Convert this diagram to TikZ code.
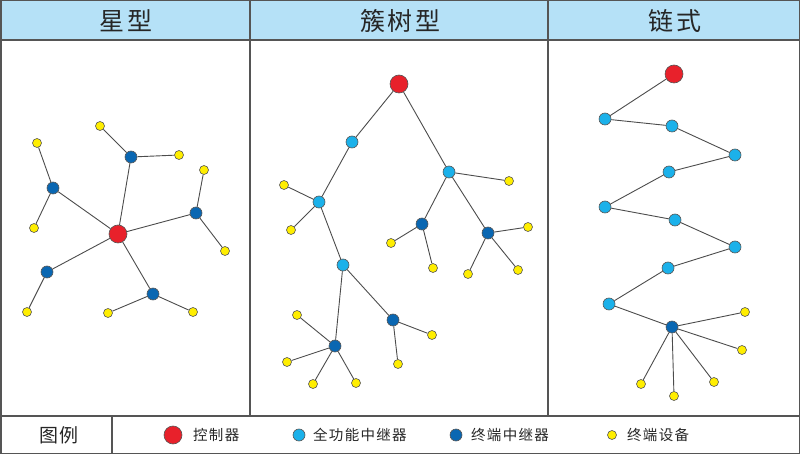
\documentclass[tikz,border=0pt]{standalone}
\usepackage{fontspec}
\newfontfamily\cjk{Noto Sans CJK SC}
\newfontfamily\cjkt[LetterSpace=10]{Noto Sans CJK SC}
\newfontfamily\cjkl[LetterSpace=9]{Noto Sans CJK SC}
\definecolor{hdr}{HTML}{B5E1F7}
\definecolor{cred}{HTML}{E8212B}
\definecolor{clb}{HTML}{1BB1EA}
\definecolor{cdb}{HTML}{0A67B2}
\definecolor{cyl}{HTML}{FFEE00}
\definecolor{frm}{HTML}{555555}
\begin{document}
\begin{tikzpicture}[x=1pt,y=-1pt,
  ctrl/.style={circle,draw=frm,line width=0.6pt,fill=cred,minimum size=18pt,inner sep=0pt},
  full/.style={circle,draw=frm,line width=0.6pt,fill=clb,minimum size=12pt,inner sep=0pt},
  term/.style={circle,draw=frm,line width=0.6pt,fill=cdb,minimum size=12pt,inner sep=0pt},
  dev/.style={circle,draw=frm,line width=0.6pt,fill=cyl,minimum size=9pt,inner sep=0pt},
  lnk/.style={draw=frm!90!black,line width=0.9pt},
  title/.style={font=\cjkt\fontsize{25}{25}\selectfont,text=black!85},
  legtxt/.style={font=\cjkl\fontsize{14.5}{14.5}\selectfont,text=black!85,anchor=west,inner sep=0pt}]
\useasboundingbox (0,0) rectangle (800,454);
\fill[hdr] (0,0) rectangle (800,40);
\draw[frm,line width=1.5pt] (0.75,0.75) rectangle (799.25,453.25);
\draw[frm,line width=1.2pt] (0,40) -- (800,40);
\draw[frm,line width=1.2pt] (0,416) -- (800,416);
\draw[frm,line width=1.2pt] (250,0) -- (250,416);
\draw[frm,line width=1.2pt] (548,0) -- (548,416);
\draw[frm,line width=1.2pt] (112,416) -- (112,454);
\node[title] (t1) at (126,21) {星型};
\node[title] (t2) at (400,21) {簇树型};
\node[title] (t3) at (675,21) {链式};
% star
\node[ctrl] (sc) at (118,234) {};
\node[term] (s1) at (131,157) {};
\node[term] (s2) at (53,188) {};
\node[term] (s3) at (196,213) {};
\node[term] (s4) at (47,272) {};
\node[term] (s5) at (153,294) {};
\node[dev] (y1) at (100,126) {};
\node[dev] (y2) at (179,155) {};
\node[dev] (y3) at (37,143) {};
\node[dev] (y4) at (34,228) {};
\node[dev] (y5) at (204,170) {};
\node[dev] (y6) at (225,251) {};
\node[dev] (y7) at (27,312) {};
\node[dev] (y8) at (108,313) {};
\node[dev] (y9) at (193,312) {};
\foreach \a/\b in {sc/s1,sc/s2,sc/s3,sc/s4,sc/s5,s1/y1,s1/y2,s2/y3,s2/y4,s3/y5,s3/y6,s4/y7,s5/y8,s5/y9}
  \draw[lnk] (\a) -- (\b);
% cluster tree
\node[ctrl] (cr) at (399,84) {};
\node[full] (c1) at (352,142) {};
\node[full] (c2) at (319,202) {};
\node[full] (c3) at (343,265) {};
\node[full] (c4) at (449,172) {};
\node[term] (d1) at (422,224) {};
\node[term] (d2) at (488,233) {};
\node[term] (d3) at (393,320) {};
\node[term] (d4) at (335,346) {};
\node[dev] (e1) at (284,185) {};
\node[dev] (e2) at (291,230) {};
\node[dev] (e3) at (509,181) {};
\node[dev] (e4) at (391,243) {};
\node[dev] (e5) at (433,268) {};
\node[dev] (e6) at (528,227) {};
\node[dev] (e7) at (468,274) {};
\node[dev] (e8) at (518,270) {};
\node[dev] (e9) at (297,315) {};
\node[dev] (e10) at (432,335) {};
\node[dev] (e11) at (287,362) {};
\node[dev] (e12) at (313,384) {};
\node[dev] (e13) at (356,383) {};
\node[dev] (e14) at (398,364) {};
\foreach \a/\b in {cr/c1,cr/c4,c1/c2,c2/e1,c2/e2,c2/c3,c3/d3,c3/d4,d3/e10,d3/e14,d4/e9,d4/e11,d4/e12,d4/e13,c4/e3,c4/d1,c4/d2,d1/e4,d1/e5,d2/e6,d2/e7,d2/e8}
  \draw[lnk] (\a) -- (\b);
% chain
\node[ctrl] (kr) at (674,74) {};
\node[full] (k1) at (605,119) {};
\node[full] (k2) at (672,126) {};
\node[full] (k3) at (735,155) {};
\node[full] (k4) at (669,172) {};
\node[full] (k5) at (605,207) {};
\node[full] (k6) at (675,220) {};
\node[full] (k7) at (735,247) {};
\node[full] (k8) at (668,268) {};
\node[full] (k9) at (609,304) {};
\node[term] (kt) at (672,327) {};
\node[dev] (f1) at (745,312) {};
\node[dev] (f2) at (742,350) {};
\node[dev] (f3) at (714,382) {};
\node[dev] (f4) at (674,396) {};
\node[dev] (f5) at (641,384) {};
\foreach \a/\b in {kr/k1,k1/k2,k2/k3,k3/k4,k4/k5,k5/k6,k6/k7,k7/k8,k8/k9,k9/kt,kt/f1,kt/f2,kt/f3,kt/f4,kt/f5}
  \draw[lnk] (\a) -- (\b);
% legend
\node[font=\cjkt\fontsize{19}{19}\selectfont,text=black!85] (lg) at (59,435) {图例};
\node[ctrl] (l1) at (173,435) {};
\node[legtxt] (lt1) at (193,435) {控制器};
\node[full] (l2) at (299,435) {};
\node[legtxt] (lt2) at (313,435) {全功能中继器};
\node[term] (l3) at (456,435) {};
\node[legtxt] (lt3) at (471,435) {终端中继器};
\node[dev] (l4) at (612,435) {};
\node[legtxt] (lt4) at (627,435) {终端设备};
\end{tikzpicture}
\end{document}
